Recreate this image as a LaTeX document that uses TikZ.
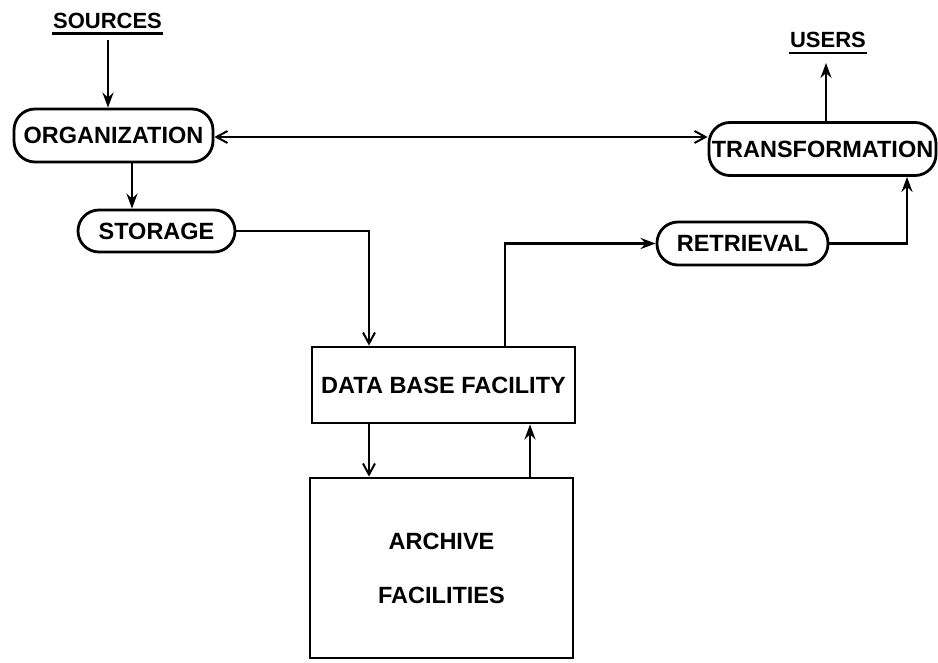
\documentclass[tikz,border=0pt]{standalone}
\usepackage{fontspec}
\setmainfont{Liberation Sans}
\usetikzlibrary{arrows.meta}
\begin{document}
\begin{tikzpicture}[x=1pt,y=-1pt,line width=2.8pt,
  lbl/.style={font=\bfseries\fontsize{23.5}{26}\selectfont},
  pill/.style={draw,rounded corners=21pt,inner sep=0pt,lbl},
  boxx/.style={draw,inner sep=0pt,lbl},
  fa/.style={-{Stealth[length=15pt,width=11pt,inset=5pt]}},
  oa/.style={-{Straight Barb[length=11pt,width=12pt,line width=2pt]}},
  ooa/.style={{Straight Barb[length=11pt,width=12pt,line width=2pt]}-{Straight Barb[length=11pt,width=12pt,line width=2pt]}}]
\useasboundingbox (0,0) rectangle (938,663);
\node[lbl,font=\bfseries\fontsize{22}{24}\selectfont,inner sep=0pt] (src) at (107.5,20.5) {SOURCES};
\node[lbl,font=\bfseries\fontsize{22}{24}\selectfont,inner sep=0pt] (usr) at (828,40) {USERS};
\draw[line width=2.4pt] ([yshift=-4pt]src.south west) -- ([yshift=-4pt]src.south east);
\draw[line width=2.4pt] ([yshift=-4pt]usr.south west) -- ([yshift=-4pt]usr.south east);
\node[pill,minimum width=199pt,minimum height=53pt] (org) at (113.5,135.5) {ORGANIZATION};
\node[pill,minimum width=157pt,minimum height=42pt] (stor) at (156.5,231) {STORAGE};
\node[pill,minimum width=227pt,minimum height=53pt] (trans) at (822.5,149) {TRANSFORMATION};
\node[pill,minimum width=171pt,minimum height=43pt] (retr) at (742.5,243.5) {RETRIEVAL};
\node[boxx,minimum width=263pt,minimum height=76pt] (db) at (443.5,385) {DATA BASE FACILITY};
\node[boxx,minimum width=263pt,minimum height=180pt,align=center] (arch) at (441.5,568) {ARCHIVE\\[28pt]FACILITIES};
\coordinate (c0) at (108,40);
\coordinate (c1) at (132,0);
\coordinate (c2) at (369,0);
\coordinate (c3) at (505,0);
\coordinate (c4) at (907,0);
\coordinate (c6) at (530,0);
\coordinate (h) at (0,137);
\coordinate (ut) at (826,63);
\draw[fa] (c0) -- (org.north -| c0);
\draw[fa] (org.south -| c1) -- (stor.north -| c1);
\draw[ooa] (org.east |- h) -- (trans.west |- h);
\draw[oa] (stor.east) -| (db.north -| c2);
\draw[fa] (db.north -| c3) |- (retr.west);
\draw[fa] (retr.east) -| (trans.south -| c4);
\draw[fa] (trans.north -| ut) -- (ut);
\draw[oa] (db.south -| c2) -- (arch.north -| c2);
\draw[fa] (arch.north -| c6) -- (db.south -| c6);
\end{tikzpicture}
\end{document}
